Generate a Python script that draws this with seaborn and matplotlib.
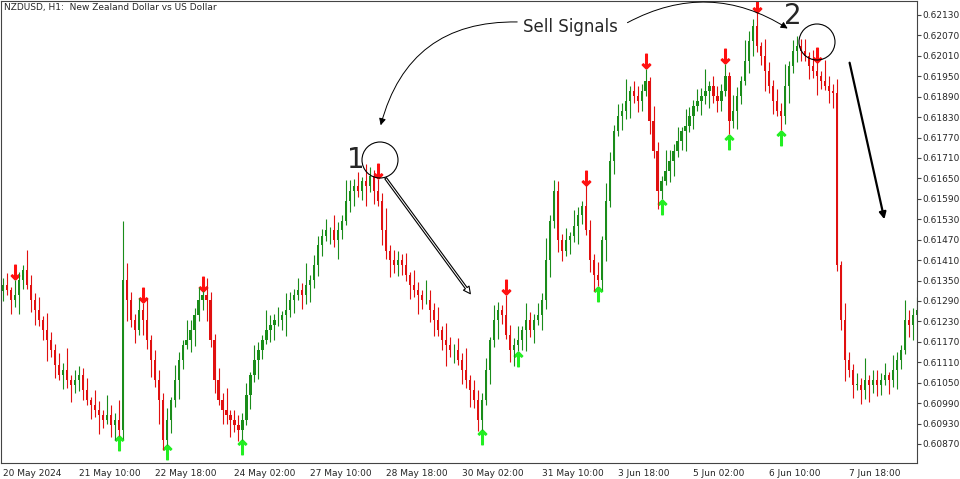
import matplotlib
matplotlib.use("Agg")
import matplotlib.pyplot as plt
import seaborn as sns
import numpy as np
import pandas as pd
from matplotlib.patches import Circle

sns.set_style("white")
plt.rcParams['font.family'] = ['DejaVu Sans']

# closes in units of 0.00001 above 0.60000
closes_pts = [1336,1321,1292,1307,1351,1380,1336,1292,1263,1233,
 1204,1175,1145,1102,1072,1087,1058,1043,1058,1072,
 1028,999,984,970,955,941,955,926,941,912,
 1351,1292,1233,1204,1263,1233,1175,1116,1058,999,
 882,941,999,1058,1116,1160,1175,1204,1248,1292,
 1307,1292,1175,1058,999,970,955,941,926,912,
 941,1014,1072,1116,1145,1175,1204,1219,1233,1233,
 1248,1263,1292,1307,1321,1307,1336,1351,1395,1453,
 1482,1497,1497,1468,1497,1526,1585,1614,1629,1614,
 1643,1629,1658,1614,1585,1497,1438,1409,1395,1409,
 1395,1365,1336,1321,1307,1292,1292,1263,1233,1204,
 1175,1160,1145,1145,1116,1087,1058,1028,999,941,
 999,1087,1175,1233,1263,1248,1190,1145,1160,1175,
 1204,1233,1204,1233,1248,1292,1409,1526,1614,1468,
 1438,1468,1482,1511,1541,1570,1497,1409,1365,1351,
 1468,1585,1702,1790,1834,1849,1878,1907,1892,1878,
 1907,1937,1819,1731,1614,1643,1673,1702,1731,1761,
 1790,1805,1834,1863,1878,1893,1907,1922,1893,1878,
 1907,1951,1819,1849,1893,1937,1995,2054,2098,2040,
 2010,1966,1922,1878,1849,1834,1922,1981,2025,2040,
 2025,2010,1981,1966,1951,1937,1922,1907,1902,1395,
 1233,1116,1087,1043,1043,1028,1058,1043,1058,1043,
 1058,1072,1058,1087,1116,1145,1233,1219,1248,1263]
open_first = 1320
wick_up_pts = [20,35,10,45,25,15,60,30,20,40,12,50,25,18,35,22,65,15,30,28]
wick_dn_pts = [30,15,40,20,55,25,12,35,45,18,28,60,20,38,15,42,25,50,22,33]
spike_high = {30: 1526, 29: 1000}
spike_low = {40: 860, 39: 930}

sell_idx = [3, 35, 50, 94, 126, 146, 161, 181, 189, 204]
buy_idx = [29, 41, 60, 120, 129, 149, 165, 182, 195]

xtick_idx = [0, 19, 38, 58, 77, 96, 115, 135, 154, 173, 192, 212]
xtick_labels = ["20 May 2024", "21 May 10:00", "22 May 18:00", "24 May 02:00",
                "27 May 10:00", "28 May 18:00", "30 May 02:00", "31 May 10:00",
                "3 Jun 18:00", "5 Jun 02:00", "6 Jun 10:00", "7 Jun 18:00"]
ytick_vals = [0.60870, 0.60930, 0.60990, 0.61050, 0.61110, 0.61170, 0.61230, 0.61290,
              0.61350, 0.61410, 0.61470, 0.61530, 0.61590, 0.61650, 0.61710, 0.61770,
              0.61830, 0.61890, 0.61950, 0.62010, 0.62070, 0.62130]

n = len(closes_pts)
close = 0.6 + np.array(closes_pts) / 1e5
opn = np.concatenate([[0.6 + open_first / 1e5], close[:-1]])
wu = np.array([wick_up_pts[i % len(wick_up_pts)] for i in range(n)]) / 1e5
wd = np.array([wick_dn_pts[i % len(wick_dn_pts)] for i in range(n)]) / 1e5
high = np.maximum(opn, close) + wu
low = np.minimum(opn, close) - wd
for k, v in spike_high.items():
    high[k] = max(high[k], 0.6 + v / 1e5)
for k, v in spike_low.items():
    low[k] = min(low[k], 0.6 + v / 1e5)
df = pd.DataFrame({"i": np.arange(n), "open": opn, "close": close, "high": high, "low": low})
df["up"] = df.close >= df.open

fig = plt.figure(figsize=(9.6, 4.79), dpi=100)
ax = fig.add_axes([1/960, 16/479, 916/960, 462/479])
GREEN, RED = "#1a8c1a", "#e01010"
for up, col in [(True, GREEN), (False, RED)]:
    d = df[df.up == up]
    ax.vlines(d.i, d.low, d.high, color=col, lw=0.8)
    ax.bar(d.i, (d.close - d.open).abs().clip(lower=0.00002), bottom=np.minimum(d.open, d.close),
           width=0.55, color=col, linewidth=0)
ax.scatter(df.i[sell_idx], df.high[sell_idx] + 0.00022, marker=r'$\downarrow$', s=110, color="#ff1010")
ax.scatter(df.i[buy_idx], df.low[buy_idx] - 0.00022, marker=r'$\uparrow$', s=110, color="#22ee22")

ax.set_xlim(-0.5, 229)
ax.set_ylim(0.60814, 0.62171)
ax.yaxis.tick_right()
ax.set_yticks(ytick_vals)
ax.set_yticklabels([f"{v:.5f}" for v in ytick_vals], fontsize=6.5)
ax.set_xticks(xtick_idx)
ax.set_xticklabels(xtick_labels, fontsize=6.5, ha='left')
ax.tick_params(axis='both', length=3, pad=1, direction='out', color='#444')
for s in ax.spines.values():
    s.set_color('#444'); s.set_linewidth(0.8)
ax.text(0.003, 0.995, "NZDUSD, H1:  New Zealand Dollar vs US Dollar", transform=ax.transAxes,
        fontsize=6.5, va='top')

H = 479
def fp(x, y):
    return (x, H - y)
fig.text(570/960, 1 - 27/H, "Sell Signals", fontsize=12, ha='center', va='center')
ax.annotate("", xy=fp(380, 128), xytext=fp(520, 22), xycoords='figure pixels',
            textcoords='figure pixels',
            arrowprops=dict(arrowstyle='-|>', color='black', lw=0.7, connectionstyle='arc3,rad=0.4'))
ax.annotate("", xy=fp(790, 30), xytext=fp(625, 24), xycoords='figure pixels',
            textcoords='figure pixels',
            arrowprops=dict(arrowstyle='-|>', color='black', lw=0.7, connectionstyle='arc3,rad=-0.3'))
fig.patches.append(Circle(fp(380, 160), 18, transform=None, fill=False, ec='black', lw=0.8))
fig.patches.append(Circle(fp(817, 42), 18, transform=None, fill=False, ec='black', lw=0.8))
fig.text(356/960, 1 - 160/H, "1", fontsize=20, ha='center', va='center')
fig.text(793/960, 1 - 16/H, "2", fontsize=20, ha='center', va='center')
ax.annotate("", xy=fp(472, 296), xytext=fp(384, 176), xycoords='figure pixels',
            textcoords='figure pixels',
            arrowprops=dict(arrowstyle='simple,head_width=0.5,tail_width=0.15', fc='white', ec='black', lw=0.8))
ax.annotate("", xy=fp(885, 222), xytext=fp(849, 60), xycoords='figure pixels',
            textcoords='figure pixels',
            arrowprops=dict(arrowstyle='-|>', color='black', lw=1.6))
fig.savefig("out.png", dpi=100)
